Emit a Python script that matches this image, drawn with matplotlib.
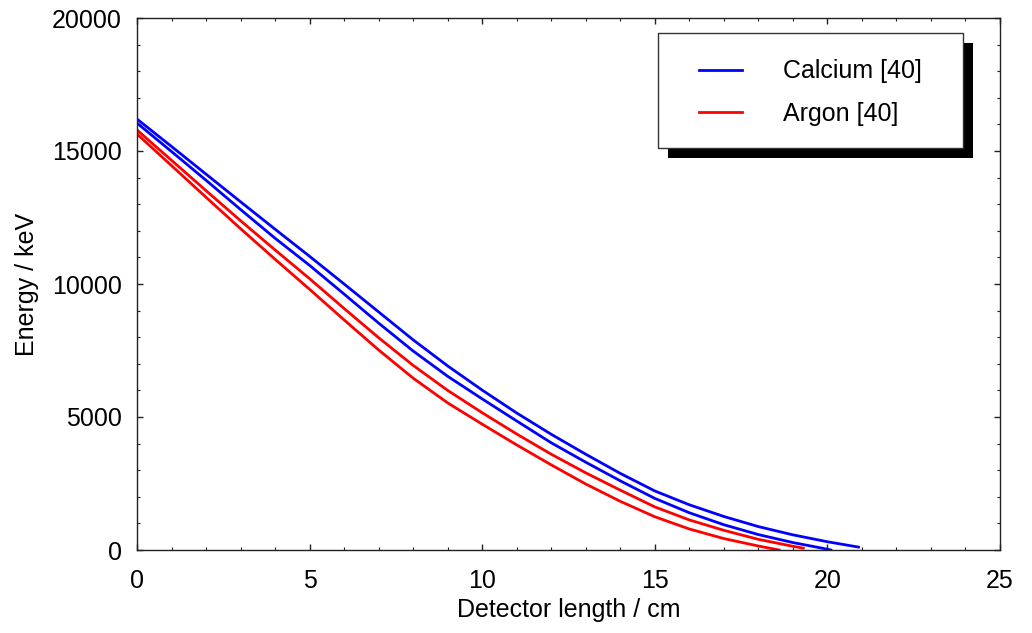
import matplotlib
matplotlib.use("Agg")
import matplotlib.pyplot as plt
from matplotlib.patches import Rectangle
from matplotlib.ticker import MultipleLocator

plt.rcParams['font.family'] = ['Liberation Sans', 'DejaVu Sans']

# Calcium [40], two curves
ca1_x = [0, 1, 2, 3, 4, 5, 6, 7, 8, 9, 10, 11, 12, 13, 14, 15, 16, 17, 18, 19, 20, 20.9]
ca1_e = [16200, 15170, 14130, 13090, 12060, 11040, 10000, 8950, 7900, 6920, 6010,
         5150, 4350, 3600, 2880, 2220, 1700, 1260, 880, 570, 310, 110]
ca2_x = [0, 1, 2, 3, 4, 5, 6, 7, 8, 9, 10, 11, 12, 13, 14, 15, 16, 17, 18, 19, 20, 20.1]
ca2_e = [16050, 14980, 13900, 12800, 11720, 10700, 9620, 8530, 7480, 6530, 5680,
         4850, 4030, 3300, 2600, 1940, 1400, 950, 580, 280, 30, 0]

# Argon [40], two curves
ar1_x = [0, 1, 2, 3, 4, 5, 6, 7, 8, 9, 10, 11, 12, 13, 14, 15, 16, 17, 18, 19, 19.3]
ar1_e = [15790, 14650, 13510, 12380, 11280, 10200, 9080, 7980, 6940, 6000, 5160,
         4360, 3600, 2900, 2250, 1620, 1130, 740, 400, 140, 70]
ar2_x = [0, 1, 2, 3, 4, 5, 6, 7, 8, 9, 10, 11, 12, 13, 14, 15, 16, 17, 18, 18.6]
ar2_e = [15640, 14450, 13260, 12080, 10930, 9800, 8650, 7520, 6460, 5530, 4730,
         3950, 3200, 2480, 1830, 1250, 790, 430, 150, 0]

W, H = 1032, 633
fig = plt.figure(figsize=(W / 100, H / 100), dpi=100)
ax = fig.add_axes([137 / W, 1 - 550 / H, 863 / W, 532 / H])

ax.plot(ca1_x, ca1_e, color='#0000ff', lw=2, label='Calcium [40]')
ax.plot(ca2_x, ca2_e, color='#0000ff', lw=2)
ax.plot(ar1_x, ar1_e, color='#ff0000', lw=2, label='Argon [40]')
ax.plot(ar2_x, ar2_e, color='#ff0000', lw=2)

ax.set_xlim(0, 25)
ax.set_ylim(0, 20000)
ax.xaxis.set_major_locator(MultipleLocator(5))
ax.xaxis.set_minor_locator(MultipleLocator(1))
ax.yaxis.set_major_locator(MultipleLocator(5000))
ax.yaxis.set_minor_locator(MultipleLocator(1000))
ax.tick_params(which='both', direction='in', top=True, right=True,
               labelsize=18, color='#222222')
ax.tick_params(which='major', length=4.5, width=1)
ax.tick_params(axis='x', which='major', pad=14)
ax.tick_params(axis='y', which='major', pad=11)
ax.tick_params(which='minor', length=2.5, width=0.8)
for s in ax.spines.values():
    s.set_color('#222222')
    s.set_linewidth(1.0)

ax.set_xlabel('Detector length / cm', fontsize=18, labelpad=3)
ax.set_ylabel('Energy / keV', fontsize=18, labelpad=9)

# legend box in pixel terms: x 658..963, y 33..148 (from top)
def ax_frac(px, py):
    return (px - 137) / 863, (550 - py) / 532

x0, y1 = ax_frac(658, 33)
x1, y0 = ax_frac(963, 148)
sx0, sy1 = ax_frac(668, 43)
sx1, sy0 = ax_frac(973, 158)

ax.add_patch(Rectangle((sx0, sy0), sx1 - sx0, sy1 - sy0, transform=ax.transAxes,
                       facecolor='black', edgecolor='none', zorder=4, clip_on=False))
ax.add_patch(Rectangle((x0, y0), x1 - x0, y1 - y0, transform=ax.transAxes,
                       facecolor='white', edgecolor='#333333', lw=1.0, zorder=4.5,
                       clip_on=False))

leg = ax.legend(loc='center', bbox_to_anchor=((x0 + x1) / 2, (y0 + y1) / 2 - 0.004),
                frameon=False, fontsize=18, borderpad=0, borderaxespad=0,
                handlelength=1.7, handletextpad=1.65, labelspacing=0.75)
leg.set_zorder(5)

fig.savefig('out.png', dpi=100)
